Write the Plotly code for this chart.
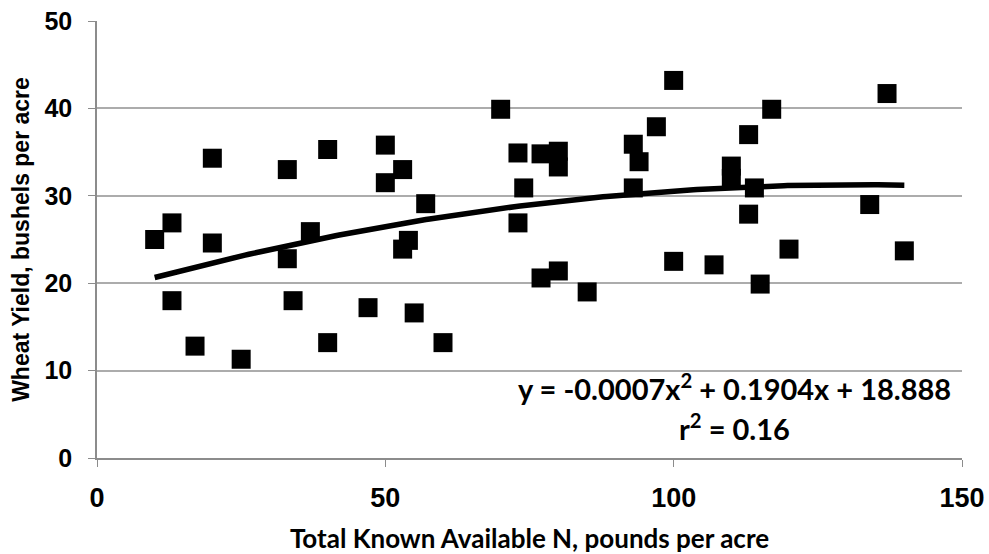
import numpy as np
import plotly.graph_objects as go

# Data
n_avail = [10, 13, 13, 17, 20, 20, 25, 33, 33, 34, 37, 40, 40, 47, 50, 50, 53, 54, 53, 55,
           57, 60, 70, 73, 74, 73, 77, 80, 80, 77, 80, 85, 93, 94, 93, 97, 100, 100, 107,
           110, 110, 113, 117, 114, 113, 120, 115, 137, 134, 140]
yield_bu = [25.0, 26.9, 18.0, 12.8, 34.3, 24.6, 11.3, 33.0, 22.8, 18.0, 25.9, 35.3, 13.2, 17.2,
            35.8, 31.5, 33.0, 24.9, 23.9, 16.6, 29.1, 13.2, 39.9, 34.9, 30.9, 26.9, 34.8, 35.1,
            33.3, 20.6, 21.4, 19.0, 35.9, 33.9, 30.9, 37.9, 43.2, 22.5, 22.1, 33.4, 32.0, 37.0,
            39.9, 30.9, 27.9, 23.9, 19.9, 41.7, 29.0, 23.7]
x_ticks = [0, 50, 100, 150]
y_ticks = [0, 10, 20, 30, 40, 50]
equation_text = "y = -0.0007x<sup>2</sup> + 0.1904x + 18.888"
r2_text = "r<sup>2</sup> = 0.16"

# Quadratic trendline fitted to the data
coef = np.polyfit(n_avail, yield_bu, 2)
xt = np.linspace(min(n_avail), max(n_avail), 200)
yt = np.polyval(coef, xt)

fig = go.Figure()
fig.add_trace(go.Scatter(x=n_avail, y=yield_bu, mode="markers",
                         marker=dict(symbol="square", size=19, color="black"),
                         showlegend=False, hoverinfo="x+y"))
fig.add_trace(go.Scatter(x=xt, y=yt, mode="lines",
                         line=dict(color="black", width=5.5),
                         showlegend=False, hoverinfo="skip"))

fig.add_annotation(x=0.737, y=0.162, xref="paper", yref="paper", xanchor="center", yanchor="middle",
                   text="<b>" + equation_text + "</b>",
                   showarrow=False, font=dict(family="Lato", size=29, color="black"))
fig.add_annotation(x=0.737, y=0.07, xref="paper", yref="paper", xanchor="center", yanchor="middle",
                   text="<b>" + r2_text + "</b>",
                   showarrow=False, font=dict(family="Lato", size=29, color="black"))

fig.update_layout(
    width=989, height=554,
    margin=dict(l=97, r=27, t=21, b=96),
    plot_bgcolor="white", paper_bgcolor="white",
    xaxis=dict(range=[0, 150], tickvals=x_ticks, showgrid=False, zeroline=False, automargin=False,
               showline=True, linecolor="#8c8c8c", linewidth=1.5,
               ticks="outside", ticklen=7, tickcolor="#8c8c8c", ticklabelstandoff=8,
               tickfont=dict(family="Liberation Sans", size=27, color="black", weight="bold"),
               title=dict(text="<b>Total Known Available N, pounds per acre</b>",
                          font=dict(family="Lato", size=26, color="black"), standoff=19)),
    yaxis=dict(range=[0, 50], tickvals=y_ticks, showgrid=True, gridcolor="#acacac", gridwidth=1.5,
               zeroline=False, showline=True, linecolor="#8c8c8c", linewidth=1.5, automargin=False,
               ticks="outside", ticklen=7, tickcolor="#8c8c8c", ticklabelstandoff=11,
               tickfont=dict(family="Liberation Sans", size=25, color="black", weight="bold"),
               title=dict(text="<b>Wheat Yield, bushels per acre</b>",
                          font=dict(family="Liberation Sans", size=23, color="black"), standoff=8)),
)
fig.write_html("out.html", config={"displayModeBar": False},
               post_script="document.body.style.margin='0';")
